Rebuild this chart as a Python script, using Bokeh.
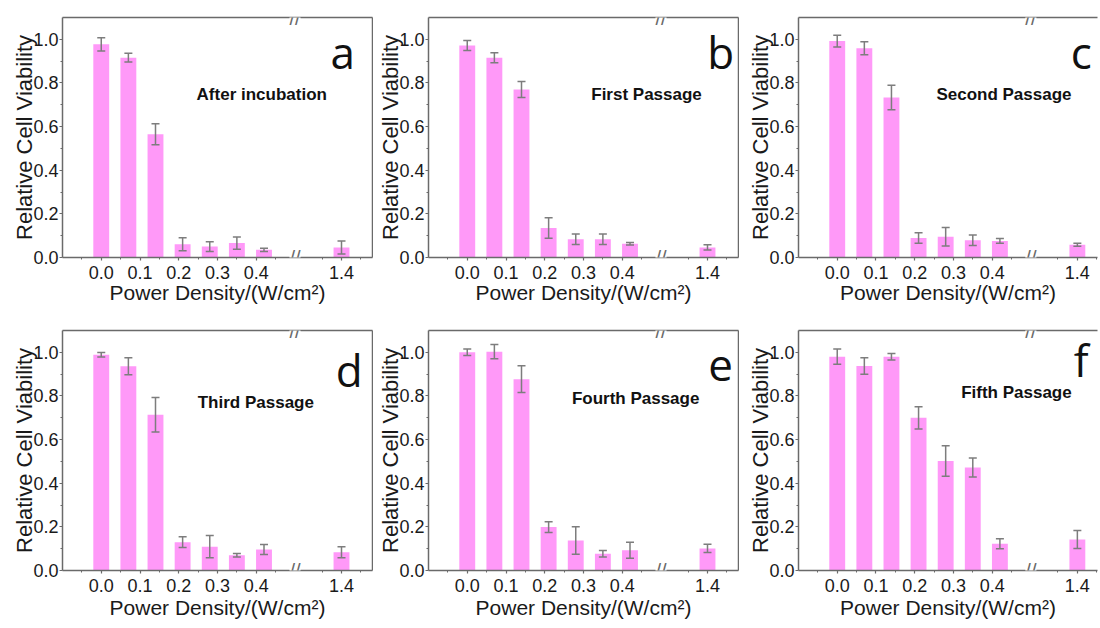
from bokeh.plotting import figure
from bokeh.layouts import row, column
from bokeh.models import (FixedTicker, Label, Whisker, ColumnDataSource,
                          LinearAxis, Range1d, TeeHead)
from bokeh.embed import file_html
from bokeh.resources import INLINE

# ---------------- data ----------------
power = [0.0, 0.07, 0.14, 0.21, 0.28, 0.35, 0.42, 1.4]

viab_a = [0.977, 0.916, 0.565, 0.061, 0.050, 0.066, 0.035, 0.046]
err_a = [0.030, 0.020, 0.048, 0.030, 0.022, 0.028, 0.007, 0.030]

viab_b = [0.972, 0.916, 0.770, 0.135, 0.084, 0.084, 0.063, 0.046]
err_b = [0.023, 0.023, 0.037, 0.047, 0.024, 0.024, 0.006, 0.012]

viab_c = [0.992, 0.959, 0.733, 0.089, 0.095, 0.079, 0.076, 0.058]
err_c = [0.027, 0.030, 0.056, 0.024, 0.042, 0.024, 0.011, 0.007]

viab_d = [0.989, 0.936, 0.714, 0.130, 0.109, 0.070, 0.096, 0.084]
err_d = [0.010, 0.039, 0.079, 0.025, 0.051, 0.008, 0.023, 0.025]

viab_e = [1.000, 1.003, 0.877, 0.199, 0.138, 0.077, 0.093, 0.101]
err_e = [0.015, 0.033, 0.061, 0.025, 0.063, 0.015, 0.037, 0.019]

viab_f = [0.980, 0.937, 0.980, 0.700, 0.502, 0.472, 0.123, 0.142]
err_f = [0.035, 0.038, 0.015, 0.051, 0.070, 0.044, 0.023, 0.041]

panel_letters = ["a", "b", "c", "d", "e", "f"]
stage_names = ["After incubation", "First Passage", "Second Passage",
               "Third Passage", "Fourth Passage", "Fifth Passage"]
x_tick_values = [0.0, 0.1, 0.2, 0.3, 0.4, 1.4]
y_tick_values = [0.0, 0.2, 0.4, 0.6, 0.8, 1.0]

x_title = "Power Density/(W/cm\u00b2)"
y_title = "Relative Cell Viability"

# ---------------- axis break ----------------
BREAK_POS = 0.5      # where the "//" is drawn on the axis
HIGH_POS = 0.62      # display position of 1.4


def to_disp(v):
    return v if v < 1.0 else HIGH_POS + (v - 1.4)


FONT = "Liberation Sans"
AXIS_COLOR = "#6a6a6a"
BAR_COLOR = "#ff99f8"
ERR_COLOR = "#7d7d7d"
TEXT_COLOR = "#1a1a1a"

FRAME_H = 240
# layout per panel: (width, height, left, right, top, x_end, right_border,
#                    title_x, title_y, letter_x, letter_y, xlabel_standoff)
layout = [
    (373, 310, 62, 1, 17, 0.70, True, 0.246, 0.745, 0.623, 0.94, -1),
    (366, 310, 55, 1, 17, 0.70, True, 0.320, 0.745, 0.654, 0.94, -1),
    (359, 310, 59, 1, 17, 0.672, False, 0.256, 0.745, 0.630, 0.94, -1),
    (373, 314, 62, 1, 20, 0.70, True, 0.249, 0.770, 0.640, 0.92, 1),
    (366, 314, 55, 1, 20, 0.70, True, 0.270, 0.790, 0.654, 0.94, 1),
    (359, 314, 59, 1, 20, 0.672, False, 0.320, 0.815, 0.630, 0.963, 1),
]

all_vals = [viab_a, viab_b, viab_c, viab_d, viab_e, viab_f]
all_errs = [err_a, err_b, err_c, err_d, err_e, err_f]


def style_axis(ax):
    ax.axis_line_color = AXIS_COLOR
    ax.axis_line_width = 1.5
    ax.major_tick_line_color = AXIS_COLOR
    ax.minor_tick_line_color = AXIS_COLOR
    ax.major_tick_line_width = 1.2
    ax.minor_tick_line_width = 1.0
    ax.major_label_text_font = FONT
    ax.major_label_text_color = TEXT_COLOR
    ax.major_label_text_font_size = "18px"
    ax.axis_label_text_font = FONT
    ax.axis_label_text_color = TEXT_COLOR
    ax.axis_label_text_font_style = "normal"
    ax.major_tick_out = 3
    ax.major_tick_in = 0
    ax.minor_tick_out = 2
    ax.minor_tick_in = 0


def blank_axis(ax):
    ax.axis_line_color = AXIS_COLOR
    ax.axis_line_width = 1.5
    ax.major_tick_out = 0
    ax.major_tick_in = 0
    ax.minor_tick_out = 0
    ax.minor_tick_in = 0
    ax.major_label_text_font_size = "0px"
    ax.major_label_standoff = 0


def make_panel(i):
    (w, h, bl, br, bt, x_end, right_border,
     tx, ty, lx, ly, xls) = layout[i]
    vals = all_vals[i]
    errs = all_errs[i]
    xd = [to_disp(v) for v in power]
    src = ColumnDataSource(dict(
        x=xd, top=vals,
        up=[v + e for v, e in zip(vals, errs)],
        lo=[v - e for v, e in zip(vals, errs)],
    ))
    bb = h - bt - FRAME_H
    p = figure(width=w, height=h, x_range=Range1d(-0.1, x_end),
               y_range=Range1d(0, 1.1), output_backend="svg",
               toolbar_location=None, min_border_left=bl,
               min_border_right=br, min_border_top=bt, min_border_bottom=bb)
    p.grid.visible = False
    p.outline_line_color = None
    p.background_fill_color = "white"
    p.border_fill_color = "white"

    p.vbar(x="x", top="top", width=0.041, source=src,
           fill_color=BAR_COLOR, line_color=None)
    wk = Whisker(base="x", upper="up", lower="lo", source=src, level="overlay",
                 line_color=ERR_COLOR, line_width=1.5,
                 upper_head=TeeHead(size=8, line_color=ERR_COLOR, line_width=1.5),
                 lower_head=TeeHead(size=8, line_color=ERR_COLOR, line_width=1.5))
    p.add_layout(wk)

    # x axis
    xa = p.xaxis[0]
    style_axis(xa)
    xa.ticker = FixedTicker(
        ticks=[to_disp(t) for t in x_tick_values],
        minor_ticks=[-0.05, 0.05, 0.15, 0.25, 0.35, 0.45, 0.57, 0.67])
    xa.major_label_overrides = {to_disp(t): f"{t:.1f}" for t in x_tick_values}
    xa.major_label_standoff = 5
    xa.axis_label = x_title
    xa.axis_label_text_font_size = "21px"
    xa.axis_label_standoff = xls

    # y axis
    ya = p.yaxis[0]
    style_axis(ya)
    ya.ticker = FixedTicker(ticks=y_tick_values,
                            minor_ticks=[0.1, 0.3, 0.5, 0.7, 0.9])
    ya.major_label_overrides = {t: f"{t:.1f}" for t in y_tick_values}
    ya.major_label_standoff = 1
    ya.axis_label = y_title
    ya.axis_label_text_font_size = "22px"
    ya.axis_label_standoff = -7

    top_ax = LinearAxis(ticker=FixedTicker(ticks=[]))
    blank_axis(top_ax)
    p.add_layout(top_ax, "above")
    if right_border:
        right_ax = LinearAxis(ticker=FixedTicker(ticks=[]))
        blank_axis(right_ax)
        p.add_layout(right_ax, "right")

    # axis-break marks
    for yb in (0.0, 1.1):
        p.add_layout(Label(x=BREAK_POS, y=yb, text="//", text_align="center",
                           text_baseline="middle", text_font=FONT,
                           text_font_size="20px", text_color=AXIS_COLOR,
                           background_fill_color="white"))

    p.add_layout(Label(x=tx, y=ty, text=stage_names[i], text_align="left",
                       text_baseline="middle", text_font=FONT,
                       text_font_style="bold", text_font_size="17px",
                       text_color="#111111"))
    p.add_layout(Label(x=lx, y=ly, text=panel_letters[i], text_align="center",
                       text_baseline="middle", text_font="Open Sans",
                       text_font_size="44px", text_color="#111111"))
    return p


panels = [make_panel(i) for i in range(6)]
layout_obj = column(row(panels[0], panels[1], panels[2], spacing=0),
                    row(panels[3], panels[4], panels[5], spacing=0),
                    spacing=0)

open("out.html", "w").write(file_html(layout_obj, INLINE))
